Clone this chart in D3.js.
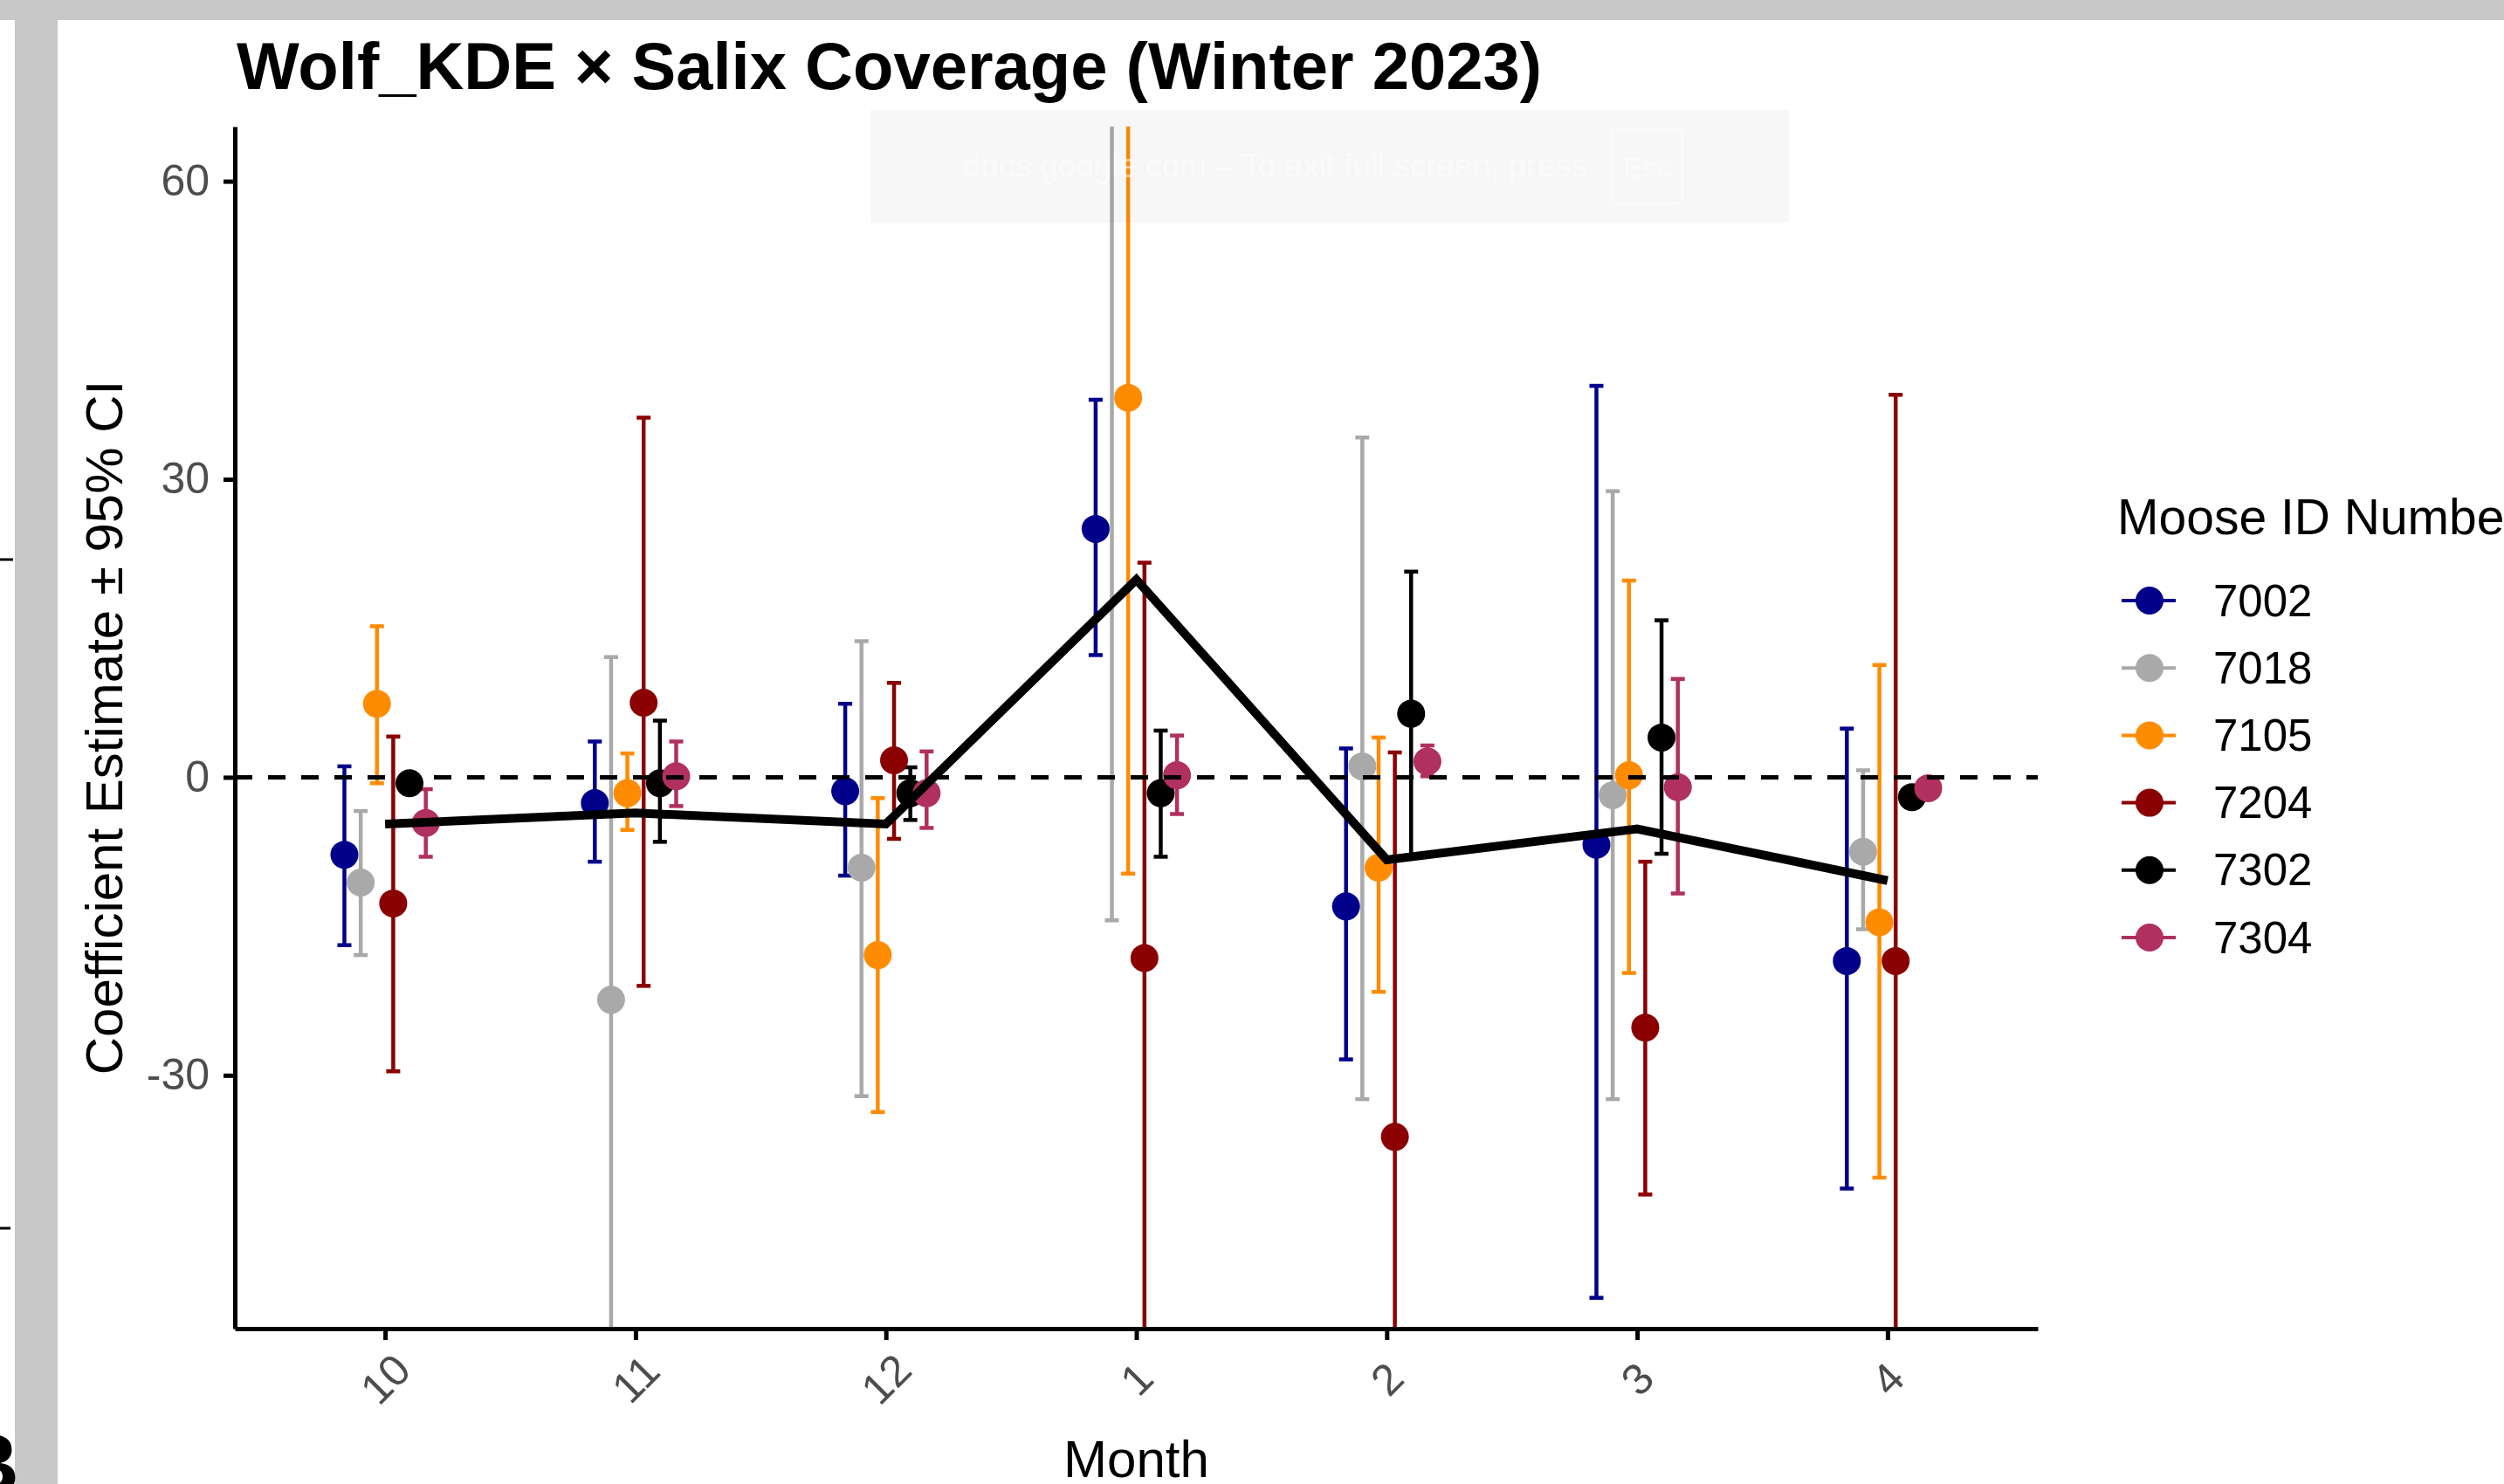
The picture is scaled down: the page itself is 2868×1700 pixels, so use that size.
<!DOCTYPE html>
<html>
<head>
<meta charset="utf-8">
<script src="https://cdnjs.cloudflare.com/ajax/libs/d3/7.8.5/d3.min.js"></script>
<style>
  body { margin: 0; background: #ffffff; }
  svg { display: block; }
  text { font-family: "Liberation Sans", Arial, sans-serif; }
</style>
</head>
<body>
<div class="chart"></div>
<script>

var months = ["10", "11", "12", "1", "2", "3", "4"];
var mooseIds = ["7002", "7018", "7105", "7204", "7302", "7304"];
var mooseColors = ["#00008b", "#a9a9a9", "#ff8c00", "#8b0000", "#000000", "#b03060"];
var yTicks = [-30, 0, 30, 60];

// coefficient estimate and 95% CI per moose, one value per month
var est7002 = [-7.8, -2.6, -1.4, 25.0, -13.0, -6.8, -18.5];
var lo7002  = [-16.9, -8.5, -9.9, 12.3, -28.4, -52.4, -41.4];
var hi7002  = [1.1, 3.6, 7.4, 38.0, 2.9, 39.4, 4.9];

var est7018 = [-10.6, -22.4, -9.1, 75.8, 1.1, -1.8, -7.5];
var lo7018  = [-17.9, -56.9, -32.1, -14.4, -32.4, -32.4, -15.3];
var hi7018  = [-3.4, 12.1, 13.7, 166.0, 34.2, 28.8, 0.7];

var est7105 = [7.4, -1.6, -17.9, 38.2, -9.1, 0.2, -14.6];
var lo7105  = [-0.6, -5.3, -33.7, -9.7, -21.6, -19.7, -40.3];
var hi7105  = [15.2, 2.4, -2.1, 86.1, 4.0, 19.8, 11.3];

var est7204 = [-12.7, 7.5, 1.7, -18.2, -36.2, -25.2, -18.5];
var lo7204  = [-29.6, -21.0, -6.2, -58.0, -75.0, -42.0, -75.5];
var hi7204  = [4.1, 36.2, 9.5, 21.6, 2.5, -8.5, 38.5];

var est7302 = [-0.6, -0.6, -1.6, -1.6, 6.4, 4.0, -2.0];
var lo7302  = [-1.6, -6.5, -4.3, -8.0, -8.0, -7.7, -2.8];
var hi7302  = [0.4, 5.7, 1.0, 4.7, 20.7, 15.8, -1.2];

var est7304 = [-4.6, 0.1, -1.6, 0.2, 1.6, -1.0, -1.1];
var lo7304  = [-8.0, -2.9, -5.1, -3.7, 0.1, -11.7, -1.8];
var hi7304  = [-1.2, 3.6, 2.6, 4.2, 3.2, 9.9, -0.4];

// monthly mean across moose (thick black line)
var meanLine = [-4.7, -3.6, -4.7, 19.9, -8.3, -5.2, -10.4];

var estimates = [est7002, est7018, est7105, est7204, est7302, est7304];
var lowers = [lo7002, lo7018, lo7105, lo7204, lo7302, lo7304];
var uppers = [hi7002, hi7018, hi7105, hi7204, hi7302, hi7304];


function drawChart(){

  var W = 2868, H = 1700;
  var left = 269, right = 2334, top = 145, bottom = 1522;

  var svg = d3.select(".chart").append("svg")
      .attr("width", W)
      .attr("height", H);

  svg.append("rect").attr("width", W).attr("height", H).style("fill", "#ffffff");

  // screenshot frame around the plot
  svg.append("rect").attr("x", 0).attr("y", 0).attr("width", W).attr("height", 23).style("fill", "#c8c8c8");
  svg.append("rect").attr("x", 17).attr("y", 23).attr("width", 49).attr("height", H - 23).style("fill", "#c8c8c8");
  svg.append("line").attr("x1", 0).attr("x2", 15).attr("y1", 641).attr("y2", 641).style("stroke", "#000").style("stroke-width", 3);
  svg.append("line").attr("x1", 0).attr("x2", 12).attr("y1", 1407).attr("y2", 1407).style("stroke", "#000").style("stroke-width", 3);
  svg.append("text").text("B")
      .attr("x", 22).attr("y", 1712)
      .attr("text-anchor", "end")
      .attr("font-size", 100).attr("font-weight", "bold")
      .style("fill", "#000");

  var rows = [];
  mooseIds.forEach(function(id, i){
    months.forEach(function(m, j){
      rows.push({id: id, color: mooseColors[i], month: m, est: estimates[i][j], lo: lowers[i][j], hi: uppers[i][j]});
    });
  });

  var x = d3.scalePoint().domain(months).range([left, right]).padding(0.6);
  var y = d3.scaleLinear().domain([-55.5, 65.5]).range([bottom, top]);
  var dodgeW = x.step() * 0.39;
  var dodge = d3.scaleBand().domain(mooseIds).range([-dodgeW / 2, dodgeW / 2]);

  function px(d){ return x(d.month) + dodge(d.id) + dodge.bandwidth() / 2; }

  svg.append("clipPath").attr("id", "panel")
    .append("rect")
      .attr("x", left).attr("y", top)
      .attr("width", right - left).attr("height", bottom - top);

  var g = svg.append("g").attr("clip-path", "url(#panel)");

  // error bars
  var bars = g.selectAll(".bar").data(rows).enter().append("g").attr("class", "bar");
  bars.append("line")
      .attr("x1", px).attr("x2", px)
      .attr("y1", function(d){ return y(d.lo); })
      .attr("y2", function(d){ return y(d.hi); })
      .style("stroke", function(d){ return d.color; })
      .style("stroke-width", 4.5);
  bars.append("line")
      .attr("x1", function(d){ return px(d) - 8; }).attr("x2", function(d){ return px(d) + 8; })
      .attr("y1", function(d){ return y(d.hi); }).attr("y2", function(d){ return y(d.hi); })
      .style("stroke", function(d){ return d.color; })
      .style("stroke-width", 4.5);
  bars.append("line")
      .attr("x1", function(d){ return px(d) - 8; }).attr("x2", function(d){ return px(d) + 8; })
      .attr("y1", function(d){ return y(d.lo); }).attr("y2", function(d){ return y(d.lo); })
      .style("stroke", function(d){ return d.color; })
      .style("stroke-width", 4.5);

  g.selectAll(".pt").data(rows).enter().append("circle")
      .attr("class", "pt")
      .attr("cx", px)
      .attr("cy", function(d){ return y(d.est); })
      .attr("r", 16)
      .style("fill", function(d){ return d.color; });

  g.append("line")
      .attr("x1", left).attr("x2", right)
      .attr("y1", y(0)).attr("y2", y(0))
      .style("stroke", "#000")
      .style("stroke-width", 5)
      .style("stroke-dasharray", "20,18");

  var line = d3.line()
      .x(function(d, i){ return x(months[i]); })
      .y(function(d){ return y(d); });

  g.append("path")
      .datum(meanLine)
      .attr("d", line)
      .style("fill", "none")
      .style("stroke", "#000")
      .style("stroke-width", 10)
      .style("stroke-linejoin", "miter");

  // axes
  var yAxis = svg.append("g")
      .attr("transform", "translate(" + left + ",0)")
      .call(d3.axisLeft(y).tickValues(yTicks).tickFormat(function(d){ return String(d); })
        .tickSize(13).tickSizeOuter(0).tickPadding(16));
  yAxis.select(".domain").style("stroke-width", 5);
  yAxis.selectAll(".tick line").style("stroke-width", 5);
  yAxis.selectAll(".tick text")
      .attr("font-size", 50)
      .style("font-family", "'Liberation Sans', Arial, sans-serif")
      .style("fill", "#4d4d4d");

  var xAxis = svg.append("g")
      .attr("transform", "translate(0," + bottom + ")")
      .call(d3.axisBottom(x).tickSize(13).tickSizeOuter(0));
  xAxis.select(".domain").style("stroke-width", 5);
  xAxis.selectAll(".tick line").style("stroke-width", 5);
  xAxis.selectAll(".tick text")
      .attr("y", 0)
      .attr("dy", null)
      .attr("transform", "translate(0,58) rotate(-45)")
      .attr("text-anchor", "middle")
      .attr("dominant-baseline", "central")
      .attr("font-size", 50)
      .style("font-family", "'Liberation Sans', Arial, sans-serif")
      .style("fill", "#4d4d4d");

  svg.append("text")
      .text("Wolf_KDE \u00d7 Salix Coverage (Winter 2023)")
      .attr("x", 271).attr("y", 102)
      .attr("font-size", 76)
      .attr("font-weight", "bold")
      .style("fill", "#000");

  svg.append("text")
      .text("Coefficient Estimate \u00b1 95% CI")
      .attr("transform", "translate(140," + ((top + bottom) / 2) + ") rotate(-90)")
      .attr("text-anchor", "middle")
      .attr("font-size", 60)
      .style("fill", "#000");

  svg.append("text")
      .text("Month")
      .attr("x", (left + right) / 2).attr("y", 1692)
      .attr("text-anchor", "middle")
      .attr("font-size", 60)
      .style("fill", "#000");

  // legend
  var legend = svg.append("g").attr("transform", "translate(2425,0)");
  legend.append("text")
      .text("Moose ID Number")
      .attr("x", 0).attr("y", 612)
      .attr("font-size", 57)
      .style("fill", "#000");

  var keys = legend.selectAll(".key").data(mooseIds).enter().append("g")
      .attr("class", "key")
      .attr("transform", function(d, i){ return "translate(0," + (688 + i * 77.2) + ")"; });
  keys.append("line")
      .attr("x1", 5).attr("x2", 67)
      .style("stroke", function(d, i){ return mooseColors[i]; })
      .style("stroke-width", 4);
  keys.append("circle")
      .attr("cx", 37).attr("r", 16)
      .style("fill", function(d, i){ return mooseColors[i]; });
  keys.append("text")
      .text(function(d){ return d; })
      .attr("x", 110).attr("y", 0)
      .attr("dominant-baseline", "central")
      .attr("font-size", 51)
      .style("fill", "#000");

  // faint full screen notice on top of the plot
  svg.append("rect")
      .attr("x", 997).attr("y", 126).attr("width", 1052).attr("height", 129)
      .style("fill", "#000").style("opacity", 0.03);
  svg.append("text")
      .text("docs.google.com \u2013 To exit full screen, press")
      .attr("x", 1103).attr("y", 203)
      .attr("font-size", 38)
      .attr("textLength", 715)
      .attr("lengthAdjust", "spacingAndGlyphs")
      .style("fill", "#ffffff").style("opacity", 0.55);
  svg.append("rect")
      .attr("x", 1846).attr("y", 147).attr("width", 81).attr("height", 86).attr("rx", 6)
      .style("fill", "none").style("stroke", "#ffffff").style("stroke-width", 2).style("opacity", 0.55);
  svg.append("text")
      .text("Esc")
      .attr("x", 1886).attr("y", 203)
      .attr("text-anchor", "middle")
      .attr("font-size", 32)
      .style("fill", "#ffffff").style("opacity", 0.55);
}

drawChart();
</script>
</body>
</html>
